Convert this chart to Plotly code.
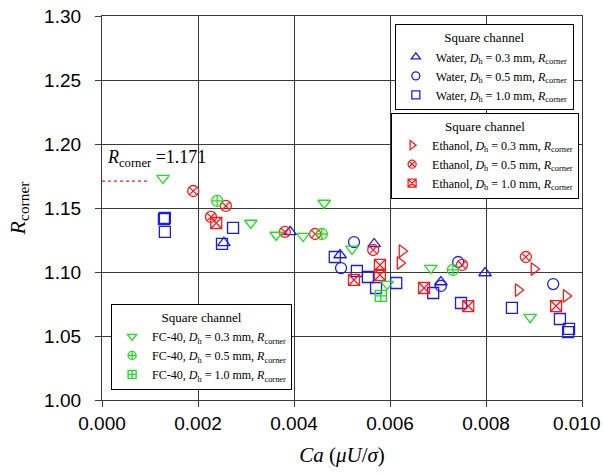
import plotly.graph_objects as go

# ---- data (Ca, R_corner) ----
water_03_x = [0.00254, 0.00392, 0.00496, 0.00567, 0.00706, 0.00798]
water_03_y = [1.1227, 1.1313, 1.1133, 1.1219, 1.0922, 1.0992]
water_05_x = [0.00525, 0.00498, 0.00706, 0.00742, 0.00940]
water_05_y = [1.1234, 1.1031, 1.0891, 1.1078, 1.0906]
water_10_x = [0.00129, 0.00131, 0.00131, 0.00250, 0.00273, 0.00485, 0.00531, 0.00554,
              0.00571, 0.00613, 0.00690, 0.00748, 0.00854, 0.00954, 0.00973, 0.00971]
water_10_y = [1.1414, 1.1422, 1.1313, 1.1219, 1.1344, 1.1117, 1.1008, 1.0961,
              1.0875, 1.0914, 1.0836, 1.0758, 1.0719, 1.0633, 1.0555, 1.0531]
eth_03_x = [0.00625, 0.00621, 0.00900, 0.00867, 0.00967]
eth_03_y = [1.1164, 1.1070, 1.1023, 1.0859, 1.0813]
eth_05_x = [0.00190, 0.00258, 0.00227, 0.00381, 0.00444, 0.00565, 0.00750, 0.00883]
eth_05_y = [1.1633, 1.1516, 1.1430, 1.1313, 1.1297, 1.1172, 1.1055, 1.1117]
eth_10_x = [0.00238, 0.00525, 0.00579, 0.00579, 0.00671, 0.00763, 0.00946]
eth_10_y = [1.1383, 1.0938, 1.1055, 1.0977, 1.0875, 1.0734, 1.0734]
fc_03_x = [0.00127, 0.00310, 0.00363, 0.00419, 0.00463, 0.00521, 0.00594, 0.00685, 0.00892]
fc_03_y = [1.1734, 1.1383, 1.1289, 1.1281, 1.1539, 1.1180, 1.0906, 1.1031, 1.0648]
fc_05_x = [0.00240, 0.00458, 0.00731]
fc_05_y = [1.1555, 1.1297, 1.1016]
fc_10_x = [0.00581]
fc_10_y = [1.0813]

ref_x = [0.0, 0.00095]
ref_value = 1.171

x_ticks = [0.000, 0.002, 0.004, 0.006, 0.008, 0.010]
x_tick_labels = ["0.000", "0.002", "0.004", "0.006", "0.008", "0.010\u2007"]
y_ticks = [1.00, 1.05, 1.10, 1.15, 1.20, 1.25, 1.30]
y_tick_labels = ["1.00", "1.05", "1.10", "1.15", "1.20", "1.25", "1.30"]

BLUE = "#1a1aff"
RED = "#ff1a1a"
GREEN = "#1ee01e"
SERIF = "Liberation Serif, Times New Roman, serif"
SANS = "Liberation Sans, Arial, Helvetica, sans-serif"

series = [
    ("Water", "0.3", water_03_x, water_03_y, BLUE, "triangle-up-open", "legend"),
    ("Water", "0.5", water_05_x, water_05_y, BLUE, "circle-open", "legend"),
    ("Water", "1.0", water_10_x, water_10_y, BLUE, "square-open", "legend"),
    ("Ethanol", "0.3", eth_03_x, eth_03_y, RED, "triangle-right-open", "legend2"),
    ("Ethanol", "0.5", eth_05_x, eth_05_y, RED, "circle-x-open", "legend2"),
    ("Ethanol", "1.0", eth_10_x, eth_10_y, RED, "square-x-open", "legend2"),
    ("FC-40", "0.3", fc_03_x, fc_03_y, GREEN, "triangle-down-open", "legend3"),
    ("FC-40", "0.5", fc_05_x, fc_05_y, GREEN, "circle-cross-open", "legend3"),
    ("FC-40", "1.0", fc_10_x, fc_10_y, GREEN, "square-cross-open", "legend3"),
]

fig = go.Figure()

# reference line
fig.add_trace(go.Scatter(x=ref_x, y=[ref_value, ref_value], mode="lines",
                         line=dict(color=RED, width=1.3, dash="dot"),
                         showlegend=False, hoverinfo="skip"))

for fluid, dh, xs, ys, col, sym, leg in series:
    fig.add_trace(go.Scatter(
        x=xs, y=ys, mode="markers",
        marker=dict(symbol=sym, size=11, color=col, line=dict(color=col, width=1.3)),
        showlegend=False))
for fluid, dh, xs, ys, col, sym, leg in series:
    fig.add_trace(go.Scatter(
        x=[None], y=[None], mode="markers",
        marker=dict(symbol=sym, size=8, color=col, line=dict(color=col, width=1.3)),
        name=f"{fluid}, <i>D</i><sub>h</sub> = {dh} mm, <i>R</i><sub>corner</sub>",
        legend=leg, showlegend=True))

leg_common = dict(
    bgcolor="white", bordercolor="black", borderwidth=1,
    font=dict(family=SERIF, size=12, color="black"),
    title=dict(text="Square channel", side="top center",
               font=dict(family=SERIF, size=13, color="black")),
    itemsizing="trace", tracegroupgap=0, itemwidth=30,
)

fig.update_layout(
    width=603, height=475,
    margin=dict(l=102, r=21, t=16, b=75, autoexpand=False),
    plot_bgcolor="white", paper_bgcolor="white",
    legend=dict(x=0.983, y=0.978, xanchor="right", yanchor="top", **leg_common),
    legend2=dict(x=0.994, y=0.748, xanchor="right", yanchor="top", **leg_common),
    legend3=dict(x=0.019, y=0.026, xanchor="left", yanchor="bottom", **leg_common),
    xaxis=dict(
        range=[0, 0.010], tickvals=x_ticks, ticktext=x_tick_labels,
        ticklabeloverflow="allow", automargin=False,
        showgrid=True, gridcolor="#3a3a3a", gridwidth=1.3,
        showline=True, linecolor="#3a3a3a", linewidth=1.3, mirror=True,
        ticks="outside", ticklen=6, tickcolor="#3a3a3a",
        tickfont=dict(family=SANS, size=19, color="black"),
        zeroline=False,
        title=dict(text="<i>Ca</i> (<i>μU</i>/<i>σ</i>)", standoff=14,
                   font=dict(family=SERIF, size=21, color="black")),
    ),
    yaxis=dict(
        range=[1.00, 1.30], tickvals=y_ticks, ticktext=y_tick_labels,
        ticklabeloverflow="allow", automargin=False,
        showgrid=True, gridcolor="#3a3a3a", gridwidth=1.3,
        showline=True, linecolor="#3a3a3a", linewidth=1.3, mirror=True,
        ticks="outside", ticklen=6, tickcolor="#3a3a3a",
        ticklabelstandoff=10,
        tickfont=dict(family=SANS, size=19, color="black"),
        zeroline=False,
        title=dict(text="<i>R</i><sub>corner</sub>", standoff=12,
                   font=dict(family=SERIF, size=22, color="black")),
    ),
    annotations=[dict(
        x=0.00006, y=1.1885, xref="x", yref="y", xanchor="left", yanchor="middle",
        text="<i>R</i><sub>corner</sub> =1.171", showarrow=False,
        font=dict(family=SERIF, size=18, color="black"))],
)

fig.write_html("out.html")
